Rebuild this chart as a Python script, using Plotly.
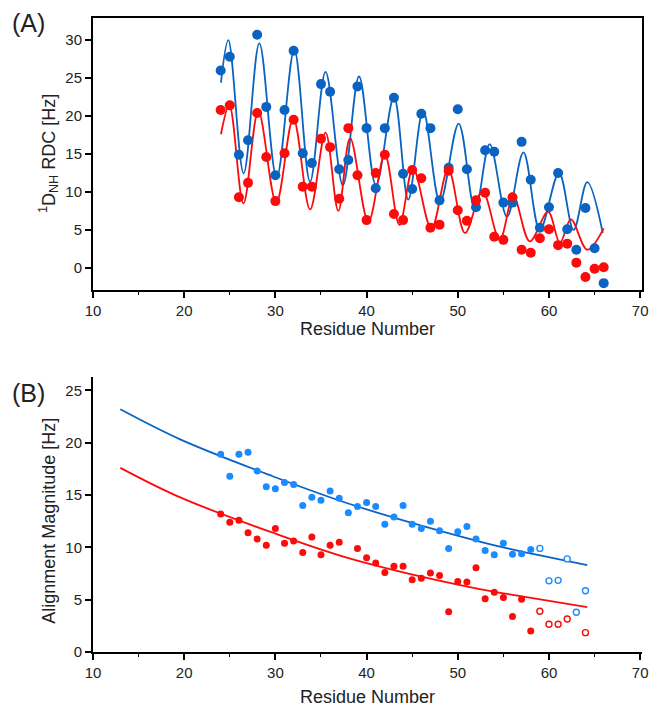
import plotly.graph_objects as go

# ---------------- Panel A data ----------------
residues_a = list(range(24, 67))
rdc_blue = [26.0, 27.8, 14.9, 16.8, 30.7, 21.2, 12.2, 20.8, 28.6, 15.1, 13.8, 24.2, 23.2, 13.0,
            14.2, 23.9, 18.4, 10.5, 18.4, 22.4, 12.4, 10.4, 20.3, 18.4, 8.9, 13.2, 20.9, 13.0,
            8.0, 15.5, 15.3, 8.6, 8.6, 16.6, 11.6, 5.3, 8.0, 12.5, 5.1, 2.4, 7.9, 2.6, -2.0]
rdc_red = [20.8, 21.4, 9.3, 11.2, 20.4, 14.6, 8.8, 15.1, 19.5, 10.7, 10.7, 17.0, 15.9, 9.1,
           18.4, 12.2, 6.3, 12.5, 14.9, 7.1, 6.3, 12.9, 11.8, 5.3, 5.7, 12.8, 7.6, 6.2,
           8.9, 9.9, 4.1, 3.7, 9.3, 2.4, 2.0, 3.9, 5.1, 3.0, 3.2, 0.7, -1.2, -0.1, 0.1]

# fitted curves (read at their turning points)
fit_blue_x = [24.03, 24.84, 26.52, 28.24, 30.14, 32.07, 33.8, 35.5, 37.4, 39.17, 41.03, 43.0,
              44.57, 46.2, 48.05, 50.1, 51.9, 53.5, 55.4, 57.2, 59.0, 61.1, 62.7, 64.2, 65.9]
fit_blue_y = [24.4, 30.0, 12.46, 29.56, 11.9, 28.7, 11.36, 25.8, 10.9, 25.2, 10.9, 22.5,
              9.0, 20.7, 8.7, 19.0, 7.6, 16.3, 6.75, 15.2, 5.0, 12.5, 5.0, 11.3, 4.6]
fit_red_x = [24.03, 24.95, 26.5, 28.13, 30.1, 31.96, 33.8, 35.5, 36.9, 38.2, 40.2, 42.0, 43.6,
             45.1, 47.1, 48.96, 50.8, 52.7, 54.6, 56.1, 57.9, 59.9, 61.2, 62.4, 64.2, 66.0]
fit_red_y = [17.6, 21.4, 8.5, 20.6, 8.6, 19.7, 7.7, 17.8, 7.5, 17.1, 6.1, 14.9, 5.66,
             13.1, 5.2, 13.0, 4.6, 10.1, 3.7, 9.4, 3.5, 7.4, 3.3, 6.4, 2.4, 5.2]

# ---------------- Panel B data ----------------
res_b_blue = list(range(24, 59))
mag_blue = [18.9, 16.8, 18.9, 19.1, 17.3, 15.8, 15.6, 16.2, 16.0, 14.0, 14.8, 14.5, 15.4, 14.7,
            13.3, 13.9, 14.3, 13.9, 12.2, 12.9, 14.0, 12.2, 11.8, 12.5, 11.6, 9.9, 11.5, 12.0,
            10.8, 9.7, 9.3, 10.4, 9.35, 9.4, 9.8]
res_b_blue_open = [59, 60, 61, 62, 63, 64]
mag_blue_open = [9.9, 6.8, 6.85, 8.9, 3.8, 5.85]

res_b_red = [24, 25, 26, 27, 28, 29, 30, 31, 32, 33, 34, 35, 36, 37, 39, 40, 41, 42, 43, 44, 45,
             46, 47, 48, 49, 50, 51, 52, 53, 54, 55, 56, 57, 58]
mag_red = [13.2, 12.4, 12.6, 11.4, 10.8, 10.2, 11.8, 10.4, 10.6, 9.5, 11.0, 9.3, 10.2, 10.5,
           9.9, 9.0, 8.5, 7.6, 8.2, 8.2, 6.9, 7.05, 7.55, 7.3, 3.85, 6.75, 6.7, 8.05, 5.1, 5.7,
           5.2, 3.4, 5.05, 2.0]
res_b_red_open = [59, 60, 61, 62, 64]
mag_red_open = [3.9, 2.65, 2.65, 3.15, 1.85]

fitb_x = [13.0, 19.5, 29.4, 38.5, 52.4, 55.7, 64.2]
fitb_blue = [23.2, 20.35, 16.9, 14.05, 10.55, 9.85, 8.3]
fitb_red = [17.6, 14.8, 11.5, 8.85, 6.0, 5.5, 4.3]

BLUE_A = "#0b63c1"
BLUE_B = "#1a8cff"
RED = "#ff0a0a"
FONT = "Liberation Sans, Arial, sans-serif"
INK = "#222"

fig = go.Figure()

# Panel A
fig.add_trace(go.Scatter(x=fit_blue_x, y=fit_blue_y, mode="lines", line=dict(color=BLUE_A, width=1.8, shape="spline", smoothing=1.0),
                         xaxis="x", yaxis="y", showlegend=False, hoverinfo="skip"))
fig.add_trace(go.Scatter(x=fit_red_x, y=fit_red_y, mode="lines", line=dict(color=RED, width=1.8, shape="spline", smoothing=1.0),
                         xaxis="x", yaxis="y", showlegend=False, hoverinfo="skip"))
fig.add_trace(go.Scatter(x=residues_a, y=rdc_blue, mode="markers", marker=dict(color=BLUE_A, size=10),
                         xaxis="x", yaxis="y", showlegend=False))
fig.add_trace(go.Scatter(x=residues_a, y=rdc_red, mode="markers", marker=dict(color=RED, size=10),
                         xaxis="x", yaxis="y", showlegend=False))

# Panel B
fig.add_trace(go.Scatter(x=fitb_x, y=fitb_blue, mode="lines", line=dict(color=BLUE_A, width=1.8, shape="spline"),
                         xaxis="x2", yaxis="y2", showlegend=False, hoverinfo="skip"))
fig.add_trace(go.Scatter(x=fitb_x, y=fitb_red, mode="lines", line=dict(color=RED, width=1.8, shape="spline"),
                         xaxis="x2", yaxis="y2", showlegend=False, hoverinfo="skip"))
fig.add_trace(go.Scatter(x=res_b_blue, y=mag_blue, mode="markers", marker=dict(color=BLUE_B, size=7),
                         xaxis="x2", yaxis="y2", showlegend=False))
fig.add_trace(go.Scatter(x=res_b_blue_open, y=mag_blue_open, mode="markers",
                         marker=dict(color="white", size=6, symbol="circle", line=dict(color=BLUE_B, width=1.4)),
                         xaxis="x2", yaxis="y2", showlegend=False))
fig.add_trace(go.Scatter(x=res_b_red, y=mag_red, mode="markers", marker=dict(color=RED, size=7),
                         xaxis="x2", yaxis="y2", showlegend=False))
fig.add_trace(go.Scatter(x=res_b_red_open, y=mag_red_open, mode="markers",
                         marker=dict(color="white", size=6, symbol="circle", line=dict(color=RED, width=1.4)),
                         xaxis="x2", yaxis="y2", showlegend=False))

tickfont = dict(family=FONT, size=15, color=INK)
titlefont = dict(family=FONT, size=18, color=INK)

common_x = dict(range=[10, 70.2], dtick=10, tick0=10, ticks="outside", ticklen=6, tickwidth=1.5,
                showline=True, linewidth=2, linecolor="black", showgrid=False, zeroline=False,
                tickfont=tickfont, tickcolor="black", automargin=False,
                minor=dict(dtick=5, tick0=10, ticks="outside", ticklen=3, tickwidth=1.2, tickcolor="black"))

fig.update_layout(
    width=653, height=709,
    margin=dict(l=93, r=11, t=18, b=57, autoexpand=False),
    paper_bgcolor="white", plot_bgcolor="white",
    font=dict(family=FONT, color=INK),
    xaxis=dict(common_x, domain=[0, 1], anchor="y", mirror=True),
    yaxis=dict(range=[-2.9, 32.9], dtick=5, tick0=0, domain=[0.571, 1.0], anchor="x",
               ticks="outside", ticklen=6, tickwidth=1.5, tickcolor="black",
               showline=True, linewidth=2, linecolor="black", mirror=True, automargin=False,
               showgrid=False, zeroline=False, tickfont=tickfont),
    xaxis3=dict(range=[10, 70.2], overlaying="x", side="top", anchor="y", automargin=False,
                tickmode="array", tickvals=[15, 25, 35, 45, 55, 65], ticks="inside", ticklen=3,
                tickwidth=1.2, tickcolor="black", showticklabels=False, showline=False,
                showgrid=False, zeroline=False),
    xaxis2=dict(common_x, domain=[0, 1], anchor="y2"),
    yaxis2=dict(range=[0, 26.3], dtick=5, tick0=0, domain=[0, 0.434], anchor="x2",
                ticks="outside", ticklen=6, tickwidth=1.5, tickcolor="black",
                showline=True, linewidth=2, linecolor="black", automargin=False,
                showgrid=False, zeroline=False, tickfont=tickfont),
    annotations=[
        dict(text="(A)", xref="paper", yref="paper", x=-0.151, y=0.992, xanchor="left", yanchor="middle",
             showarrow=False, font=dict(family=FONT, size=25, color=INK)),
        dict(text="(B)", xref="paper", yref="paper", x=-0.151, y=0.4085, xanchor="left", yanchor="middle",
             showarrow=False, font=dict(family=FONT, size=25, color=INK)),
        # axis titles
        dict(text="Residue Number", xref="paper", yref="paper", x=0.5, y=0.5095, xanchor="center", yanchor="middle",
             showarrow=False, font=titlefont),
        dict(text="Residue Number", xref="paper", yref="paper", x=0.5, y=-0.071, xanchor="center", yanchor="middle",
             showarrow=False, font=titlefont),
        dict(text="<sup>1</sup>D<sub>NH</sub> RDC [Hz]", xref="paper", yref="paper", x=-0.0801, y=0.7855,
             xanchor="center", yanchor="middle", textangle=-90, showarrow=False, font=titlefont),
        dict(text="Alignment Magnitude [Hz]", xref="paper", yref="paper", x=-0.0801, y=0.207,
             xanchor="center", yanchor="middle", textangle=-90, showarrow=False, font=titlefont),
    ],
)

fig.write_html("out.html", config={"displayModeBar": False},
               post_script="document.body.style.margin='0';document.body.style.padding='0';"
                           "document.documentElement.style.overflow='hidden';")
